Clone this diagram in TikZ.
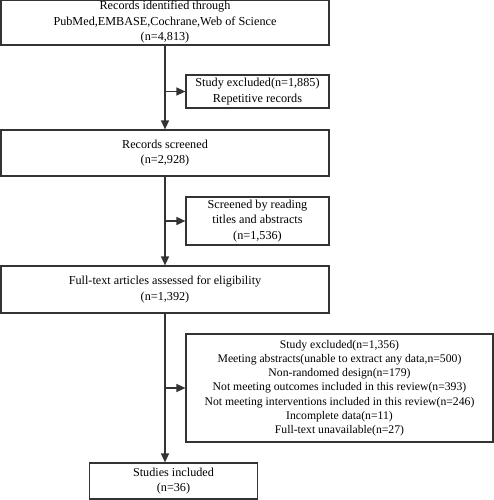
\documentclass[tikz,border=0pt]{standalone}
\usepackage{fontspec}
\setmainfont{Liberation Serif}
\usetikzlibrary{arrows.meta}

\tikzset{
  stage/.style={draw=black!80,line width=1.2pt,align=center,inner sep=0pt,
    font=\fontsize{12.2}{15.5}\selectfont},
  excl/.style={stage,font=\fontsize{11.7}{14.2}\selectfont},
  flow/.style={draw=black!80,line width=1.4pt,-{Triangle[length=9pt,width=8pt]}}
}

\begin{document}
\begin{tikzpicture}[x=1pt,y=-1pt]
  \useasboundingbox (0,0) rectangle (494,500);

  % main column
  \node[stage,minimum width=328pt,minimum height=45pt] (ident) at (165,22.5)
    {Records identified through\\PubMed,EMBASE,Cochrane,Web of Science\\(n=4,813)};
  \node[stage,minimum width=328pt,minimum height=46pt] (screen) at (165,153)
    {Records screened\\(n=2,928)};
  \node[stage,minimum width=328pt,minimum height=47pt] (full) at (165,289.5)
    {Full-text articles assessed for eligibility\\(n=1,392)};
  \node[stage,minimum width=168pt,minimum height=36pt] (incl) at (173.5,481)
    {Studies included\\(n=36)};

  % side boxes
  \node[stage,minimum width=143pt,minimum height=33pt] (dup) at (257.5,91.5)
    {Study excluded(n=1,885)\\Repetitive records};
  \node[stage,minimum width=143pt,minimum height=48pt] (title) at (257.5,221)
    {Screened by reading\\titles and abstracts\\(n=1,536)};
  \node[excl,minimum width=307pt,minimum height=108pt] (out) at (339.5,388)
    {Study excluded(n=1,356)\\
     Meeting abstracts(unable to extract any data,n=500)\\
     Non-randomed design(n=179)\\
     Not meeting outcomes included in this review(n=393)\\
     Not meeting interventions included in this review(n=246)\\
     Incomplete data(n=11)\\
     Full-text unavailable(n=27)};

  % arrows
  \draw[flow] (ident) -- (screen);
  \draw[flow] (screen) -- (full);
  \draw[flow] (full.south) -- (full.south |- incl.north);
  \draw[flow] (ident.south |- dup.west) -- (dup.west);
  \draw[flow] (screen.south |- title.west) -- (title.west);
  \draw[flow] (full.south |- out.west) -- (out.west);
\end{tikzpicture}
\end{document}
